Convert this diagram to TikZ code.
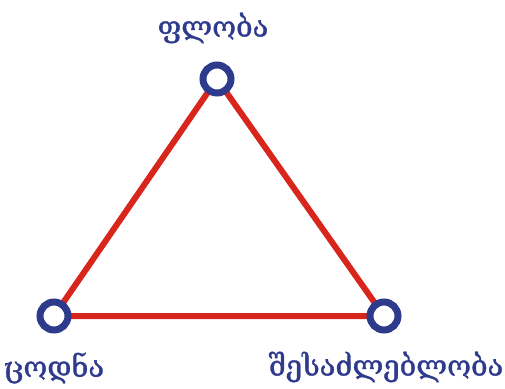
\documentclass[tikz,border=0pt]{standalone}
\usepackage{fontspec}
\newfontfamily\geofont[FakeBold=1.2]{DejaVu Serif}
\definecolor{tred}{HTML}{D9261C}
\definecolor{tblue}{HTML}{2E3A8C}
\begin{document}
\begin{tikzpicture}[x=1pt,y=-1pt,
  vtx/.style={circle,draw=tblue,line width=7pt,fill=white,minimum size=28pt,inner sep=0pt},
  edge/.style={draw=tred,line width=6pt},
  lbl/.style={text=tblue,font=\geofont\fontsize{29}{34}\selectfont,inner sep=0pt}]
\useasboundingbox (0,0) rectangle (505,388);
\coordinate (pa) at (217,79);
\coordinate (pb) at (54,316);
\coordinate (pc) at (384,316);
\draw[edge] (pa) -- (pb) -- (pc) -- cycle;
\node[vtx] (a) at (pa) {};
\node[vtx] (b) at (pb) {};
\node[vtx] (c) at (pc) {};
\node[lbl] (la) at (213,28) {ფლობა};
\node[lbl] (lb) at (54,368) {ცოდნა};
\node[lbl] (lc) at (386,367) {შესაძლებლობა};
\end{tikzpicture}
\end{document}
